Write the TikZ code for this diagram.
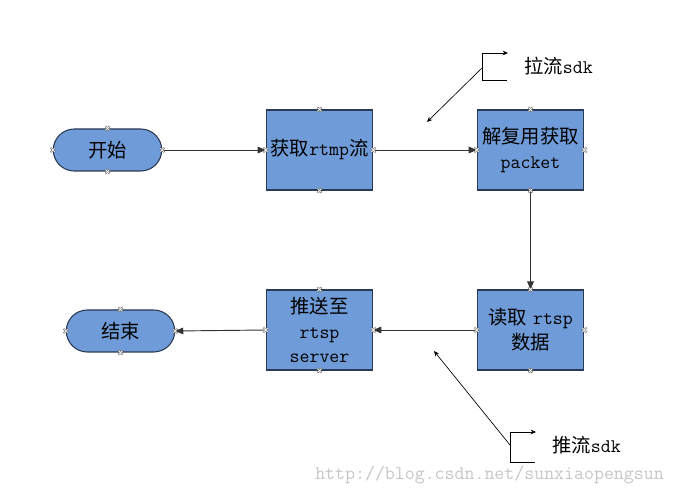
\documentclass[tikz,border=0pt]{standalone}
\usepackage{fontspec}
\newfontfamily\cjk{Noto Sans CJK SC}
\usetikzlibrary{shapes.misc,arrows.meta,calc}
\definecolor{boxfill}{HTML}{6F9BD8}
\definecolor{boxline}{HTML}{2A3A55}
\tikzset{
  proc/.style={draw=boxline, fill=boxfill, line width=0.8pt, minimum width=80pt, minimum height=60pt, align=center, inner sep=1pt, font=\fontsize{14.5}{18.5}\selectfont},
  term/.style={draw=boxline, fill=boxfill, line width=0.8pt, rounded rectangle, minimum width=88pt, minimum height=31.5pt, font=\fontsize{14.5}{18}\selectfont},
  conn/.style={draw=black!80, line width=0.7pt, -{Triangle[length=6pt,width=5pt]}},
  note/.style={draw=black, line width=0.5pt},
  notearrow/.style={draw=black, line width=0.5pt, -{Stealth[length=4pt,width=3.5pt]}},
  mkout/.style={draw=black!60, line width=1.3pt},
  mkin/.style={draw=white, line width=0.5pt},
  lbl/.style={font=\fontsize{14.5}{18}\selectfont, inner sep=0pt},
  wm/.style={font=\ttfamily\fontsize{14.5}{16}\selectfont, text=gray!45, inner sep=0pt}
}
\newcommand{\mkx}[1]{\draw[mkout] ($(#1)+(-2.2,-2.2)$) -- ($(#1)+(2.2,2.2)$) ($(#1)+(-2.2,2.2)$) -- ($(#1)+(2.2,-2.2)$);
\draw[mkin] ($(#1)+(-2,-2)$) -- ($(#1)+(2,2)$) ($(#1)+(-2,2)$) -- ($(#1)+(2,-2)$);}
\begin{document}
\begin{tikzpicture}[x=0.75pt,y=-0.75pt]
\useasboundingbox (0,0) rectangle (675,495);
\node[term] (start) at (107.5,150) {\cjk 开始};
\node[proc] (get) at (319.5,150) {{\cjk 获取}\texttt{rtmp}{\cjk 流}};
\node[proc] (demux) at (530.5,150) {{\cjk 解复用获取}\\\texttt{packet}};
\node[proc] (read) at (530.5,330) {{\cjk 读取} \texttt{rtsp}\\{\cjk 数据}};
\node[proc] (push) at (319.5,330) {{\cjk 推送至}\\\texttt{rtsp}\\\texttt{server}};
\node[term] (stop) at (120.5,331) {\cjk 结束};
\draw[conn] (start.east) -- (get.west);
\draw[conn] (get.east) -- (demux.west);
\draw[conn] (demux.south) -- (read.north);
\draw[conn] (read.west) -- (push.east);
\draw[conn] (push.west) -- (stop.east);
\foreach \n in {start,get,demux,read,push,stop}{
  \mkx{\n.north} \mkx{\n.south} \mkx{\n.east} \mkx{\n.west}
}
% annotation 1
\coordinate (b1t) at (482,53);
\coordinate (b1a) at (508,53);
\coordinate (b1b) at (482,80);
\coordinate (b1e) at (507,80);
\coordinate (b1m) at (482,68);
\coordinate (p1) at (427,122);
\draw[notearrow] (b1b) -- (b1t) -- (b1a);
\draw[note] (b1b) -- (b1e);
\draw[notearrow] (b1m) -- (p1);
\node[lbl, anchor=west] (lab1) at (524,66) {{\cjk 拉流}\texttt{sdk}};
% annotation 2
\coordinate (b2t) at (510,432);
\coordinate (b2a) at (536,432);
\coordinate (b2b) at (510,462);
\coordinate (b2e) at (535,462);
\coordinate (b2m) at (510,445);
\coordinate (p2) at (434,351);
\draw[notearrow] (b2b) -- (b2t) -- (b2a);
\draw[note] (b2b) -- (b2e);
\draw[notearrow] (b2m) -- (p2);
\node[lbl, anchor=west] (lab2) at (552,445) {{\cjk 推流}\texttt{sdk}};
\node[wm, anchor=west] (wmk) at (315,475) {http://blog.csdn.net/sunxiaopengsun};
\end{tikzpicture}
\end{document}
